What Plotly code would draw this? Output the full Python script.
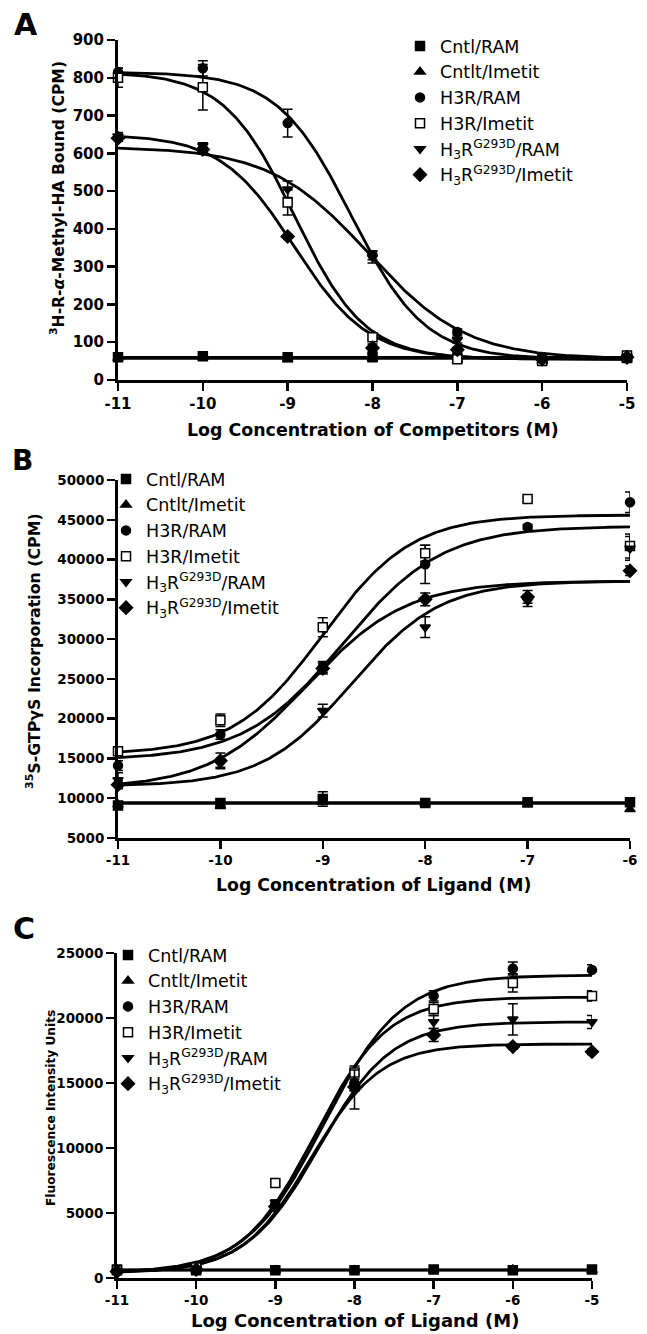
import numpy as np
import plotly.graph_objects as go

W, H = 647, 1334

# ---------------- data ----------------
series_names = ["Cntl/RAM", "Cntlt/Imetit", "H3R/RAM", "H3R/Imetit",
                "H<sub>3</sub>R<sup>G293D</sup>/RAM", "H<sub>3</sub>R<sup>G293D</sup>/Imetit"]

# Panel A: competition binding
xA = [-11, -10, -9, -8, -7, -6, -5]
A_cntl_ram = [60, 63, 60, 60, 58, 55, 58]
A_cntl_imetit = [58, 60, 55, 57, 52, 50, 55]
A_h3r_ram = [815, 825, 680, 330, 127, 55, 65]
A_h3r_ram_err = [10, 20, 37, 12, 8, 4, 4]
A_h3r_imetit = [800, 775, 470, 113, 55, 50, 65]
A_h3r_imetit_err = [25, 60, 33, 5, 4, 3, 5]
A_g_ram = [645, 620, 505, 325, 106, 55, 60]
A_g_ram_err = [10, 8, 22, 15, 8, 4, 4]
A_g_imetit = [640, 610, 380, 85, 80, 55, 60]
A_g_imetit_err = [8, 6, 5, 10, 6, 3, 3]
# fitted parameters (bottom, top, logEC50, hill)
A_fits = [(60, 60, -8, 1), (57, 57, -8, 1), (55, 815, -8.25, -1.0),
          (55, 815, -8.92, -1.05), (55, 617, -8.05, -0.75), (55, 650, -8.92, -1.0)]

# Panel B: GTPgammaS incorporation
xB = [-11, -10, -9, -8, -7, -6]
B_cntl_ram = [9100, 9400, 9900, 9400, 9500, 9500]
B_cntl_ram_err = [300, 200, 900, 200, 200, 200]
B_cntl_imetit = [9200, 9000, 9500, 9300, 9200, 8600]
B_h3r_ram = [14100, 18000, 26500, 39400, 44100, 47200]
B_h3r_ram_err = [600, 600, 700, 2400, 300, 1300]
B_h3r_imetit = [15900, 19800, 31500, 40800, 47600, 41700]
B_h3r_imetit_err = [500, 800, 1200, 1000, 300, 1500]
B_g_ram = [12300, 14400, 21000, 31500, 34800, 41400]
B_g_ram_err = [900, 500, 800, 1300, 700, 1500]
B_g_imetit = [11700, 14700, 26300, 35000, 35300, 38600]
B_g_imetit_err = [500, 1000, 700, 800, 800, 600]
B_fits = [(9450, 9450, -8, 1), (9350, 9350, -8, 1), (14800, 44200, -8.8, 0.9),
          (15500, 45600, -9.0, 1.0), (11500, 37300, -8.72, 1.0), (11200, 37300, -9.15, 0.9)]

# Panel C: fluorescence
xC = [-11, -10, -9, -8, -7, -6, -5]
C_cntl_ram = [650, 600, 600, 600, 650, 600, 650]
C_cntl_imetit = [600, 550, 600, 600, 600, 650, 600]
C_h3r_ram = [550, 700, 5600, 15000, 21700, 23800, 23700]
C_h3r_ram_err = [100, 100, 200, 600, 400, 500, 400]
C_h3r_imetit = [600, 800, 7300, 15800, 20700, 22700, 21700]
C_h3r_imetit_err = [100, 100, 200, 500, 500, 700, 400]
C_g_ram = [500, 700, 5800, 14500, 19700, 19900, 19700]
C_g_ram_err = [100, 100, 200, 1500, 500, 1200, 500]
C_g_imetit = [500, 650, 5500, 14700, 18700, 17800, 17400]
C_g_imetit_err = [100, 100, 200, 300, 500, 200, 200]
C_fits = [(620, 620, -8, 1), (600, 600, -8, 1), (400, 23300, -8.39, 0.89),
          (400, 21600, -8.5, 0.95), (400, 19700, -8.45, 0.95), (400, 18000, -8.55, 1.0)]

xA_ticks = [-11, -10, -9, -8, -7, -6, -5]
xA_ticktext = ["-11", "-10", "-9", "-8", "-7", "-6", "-5"]
xB_ticks = [-11, -10, -9, -8, -7, -6]
xB_ticktext = ["-11", "-10", "-9", "-8", "-7", "-6"]

# ---------------- styling ----------------
FONT = "DejaVu Sans, Verdana, sans-serif"
symbols = ["square", "triangle-up", "circle", "square", "triangle-down", "diamond"]
fills = ["black", "black", "black", "white", "black", "black"]


def logistic(x, bottom, top, c, h):
    return bottom + (top - bottom) / (1 + 10 ** ((c - x) * h))


def px_x(p):
    return p / W


def px_y(p):
    return 1 - p / H


fig = go.Figure()

panels = [
    dict(x=xA, ys=[A_cntl_ram, A_cntl_imetit, A_h3r_ram, A_h3r_imetit, A_g_ram, A_g_imetit],
         errs=[None, None, A_h3r_ram_err, A_h3r_imetit_err, A_g_ram_err, A_g_imetit_err],
         fits=A_fits, xa="x", ya="y", legend="legend", xmax=-5),
    dict(x=xB, ys=[B_cntl_ram, B_cntl_imetit, B_h3r_ram, B_h3r_imetit, B_g_ram, B_g_imetit],
         errs=[B_cntl_ram_err, None, B_h3r_ram_err, B_h3r_imetit_err, B_g_ram_err, B_g_imetit_err],
         fits=B_fits, xa="x2", ya="y2", legend="legend2", xmax=-6),
    dict(x=xC, ys=[C_cntl_ram, C_cntl_imetit, C_h3r_ram, C_h3r_imetit, C_g_ram, C_g_imetit],
         errs=[None, None, C_h3r_ram_err, C_h3r_imetit_err, C_g_ram_err, C_g_imetit_err],
         fits=C_fits, xa="x3", ya="y3", legend="legend3", xmax=-5),
]

for p in panels:
    xs = np.linspace(-11, p["xmax"], 300)
    for fit in p["fits"]:
        fig.add_trace(go.Scatter(x=xs, y=logistic(xs, *fit), mode="lines",
                                 line=dict(color="black", width=2.8), showlegend=False,
                                 hoverinfo="skip", xaxis=p["xa"], yaxis=p["ya"]))
    for i, (yv, ev) in enumerate(zip(p["ys"], p["errs"])):
        err = dict(type="data", array=ev, visible=True, color="black",
                   thickness=1.5, width=5) if ev is not None else None
        fig.add_trace(go.Scatter(
            x=p["x"], y=yv, mode="markers", name=series_names[i],
            marker=dict(symbol=symbols[i], size=9 if i != 5 else 10, color=fills[i],
                        line=dict(color="black", width=1.5)),
            error_y=err, cliponaxis=False, legend=p["legend"],
            xaxis=p["xa"], yaxis=p["ya"]))

axis_common = dict(showline=True, linewidth=3, linecolor="black", ticks="outside",
                   ticklen=8, tickwidth=2.5, tickcolor="black", showgrid=False,
                   zeroline=False, mirror=False, automargin=False)

tick_font_A = dict(family=FONT, size=15, color="black", weight="bold")
tick_font_B = dict(family=FONT, size=13.5, color="black", weight="bold")
tick_font_C = dict(family=FONT, size=13.5, color="black", weight="bold")

legend_common = dict(bgcolor="rgba(0,0,0,0)", borderwidth=0,
                     font=dict(family=FONT, size=17.5, color="black"),
                     xanchor="left", yanchor="top", tracegroupgap=0,
                     itemclick=False, itemdoubleclick=False)

fig.update_layout(
    width=W, height=H, margin=dict(l=0, r=0, t=0, b=0, autoexpand=False),
    paper_bgcolor="white", plot_bgcolor="white",
    font=dict(family=FONT, color="black"),
    xaxis=dict(domain=[px_x(118), px_x(627)], range=[-11, -5], anchor="y",
               tickvals=xA_ticks, ticktext=xA_ticktext, tickfont=tick_font_A, **axis_common),
    yaxis=dict(domain=[px_y(380), px_y(40)], range=[0, 900], anchor="x",
               dtick=100, tickformat="d", tickfont=tick_font_A, **axis_common),
    xaxis2=dict(domain=[px_x(118), px_x(630)], range=[-11, -6], anchor="y2",
                tickvals=xB_ticks, ticktext=xB_ticktext, tickfont=tick_font_B, **axis_common),
    yaxis2=dict(domain=[px_y(838), px_y(480)], range=[5000, 50000], anchor="x2",
                dtick=5000, tickformat="d", tickfont=tick_font_B, **axis_common),
    xaxis3=dict(domain=[px_x(117), px_x(592)], range=[-11, -5], anchor="y3",
                tickvals=xA_ticks, ticktext=xA_ticktext, tickfont=tick_font_C, **axis_common),
    yaxis3=dict(domain=[px_y(1278), px_y(953)], range=[0, 25000], anchor="x3",
                dtick=5000, tickformat="d", tickfont=tick_font_C, **axis_common),
    legend=dict(x=px_x(400), y=px_y(28), **legend_common),
    legend2=dict(x=px_x(106), y=px_y(461), **legend_common),
    legend3=dict(x=px_x(108), y=px_y(937), **legend_common),
)

def ann(text, x, y, size, bold=True, angle=0):
    fig.add_annotation(text=text, x=px_x(x), y=px_y(y), xref="paper", yref="paper",
                       showarrow=False, textangle=angle, xanchor="center", yanchor="middle",
                       font=dict(family=FONT, size=size, color="black",
                                 weight="bold" if bold else "normal"))

ann("A", 26, 24, 30)
ann("B", 22, 460, 28)
ann("C", 24, 928, 30)
ann("Log Concentration of Competitors (M)", 373, 430, 17.4)
ann("Log Concentration of Ligand (M)", 373, 885, 17.3)
ann("Log Concentration of Ligand (M)", 355, 1320, 18)
ann("<sup>3</sup>H-R-<i>α</i>-Methyl-HA Bound (CPM)", 58, 198, 15.6, angle=-90)
ann("<sup>35</sup>S-GTPγS Incorporation (CPM)", 33, 651, 15.8, angle=-90)
ann("Fluorescence Intensity Units", 51, 1108, 12.2, angle=-90)

fig.write_html("out.html",
               config={"displayModeBar": False, "staticPlot": True},
               post_script="document.body.style.margin='0';document.body.style.overflow='hidden';")
